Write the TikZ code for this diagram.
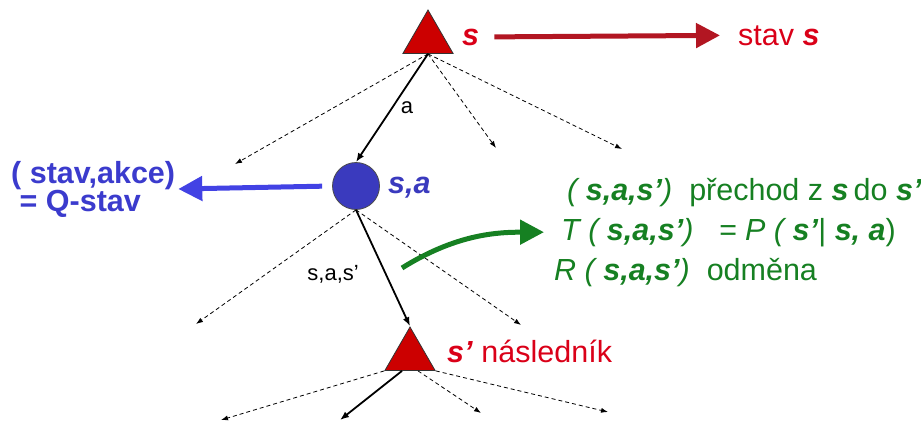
\documentclass[tikz,border=0pt]{standalone}
\usepackage{fontspec}
\setmainfont{Liberation Sans}
\usetikzlibrary{shapes.geometric,arrows.meta}
\definecolor{stavred}{RGB}{204,0,0}
\definecolor{textred}{RGB}{218,0,24}
\definecolor{arrowred}{RGB}{178,22,34}
\definecolor{qblue}{RGB}{58,58,190}
\definecolor{arrowblue}{RGB}{66,66,228}
\definecolor{tgreen}{RGB}{22,128,34}

\begin{document}
\begin{tikzpicture}[x=1pt,y=-1pt,
  stavtri/.style={regular polygon, regular polygon sides=3, minimum size=58pt,
    inner sep=0pt, fill=stavred, draw=black!80, line width=0.8pt},
  dashed edge/.style={dash pattern=on 4pt off 3pt, line width=0.8pt,
    -{Latex[length=7pt,width=5pt]}},
  solid edge/.style={line width=1.8pt, -{Latex[length=9pt,width=7pt]}},
  big/.style={font=\fontsize{30.5}{34}\selectfont, inner sep=3pt},
  small/.style={font=\fontsize{22}{26}\selectfont, inner sep=2pt},
  fat arrow/.style={line width=5pt, -{Triangle[length=24pt,width=24pt]}}]
  \useasboundingbox (0,0) rectangle (921,423);

  % states and the Q-state
  \node[stavtri] (top) at (428,39) {};
  \node[circle, minimum size=47pt, inner sep=0pt, fill=qblue, draw=black!70,
    line width=0.8pt] (qs) at (356,186) {};
  \node[stavtri] (bot) at (410,356) {};

  % labels
  \node[big, anchor=base west, text=textred] (slab) at (459,45) {\textbf{\textit{s}}};
  \node[big, anchor=base west, text=textred] (stavtxt) at (735,45) {stav \textbf{\textit{s}}};
  \node[big, anchor=base west, text=qblue] (salab) at (385,193) {\textbf{\textit{s,a}}};
  \node[big, anchor=west, align=left, text=arrowblue!90!black, font=\fontsize{30.5}{28}\selectfont\bfseries]
    (qtxt) at (8,189) {( stav,akce)\\\ = Q-stav};
  \node[big, anchor=base west, text=textred] (succ) at (444,362)
    {\textbf{\textit{s’}} následník};
  \node[big, anchor=base west, text=tgreen] (trans) at (564,200)
    {\textit{( \textbf{s,a,s’})}\ \ přechod z \textbf{\textit{s}}\,do \textbf{\textit{s’}}};
  \node[big, anchor=base west, text=tgreen] (tprob) at (558,240)
    {\textit{T ( \textbf{s,a,s’})\ \ \ = P ( \textbf{s’}}| \textit{\textbf{s, a}})};
  \node[big, anchor=base west, text=tgreen] (reward) at (551,280)
    {\textit{R ( \textbf{s,a,s’})}\ \ odměna};

  % leaves
  \coordinate (t1) at (235,164);
  \coordinate (t2) at (496,148);
  \coordinate (t3) at (622,149);
  \coordinate (q1) at (196,324);
  \coordinate (q2) at (521,325);
  \coordinate (b1) at (221,420);
  \coordinate (b2) at (340,420);
  \coordinate (b3) at (481,413);
  \coordinate (b4) at (608,412);
  \coordinate (gstart) at (402,268);

  % tree edges
  \foreach \c in {t1,t2,t3} \draw[dashed edge] (top.south) -- (\c);
  \draw[solid edge] (top.south) -- node[small, right=6pt] (alab) {a} (qs.north);
  \foreach \c in {q1,q2} \draw[dashed edge] (qs.south) -- (\c);
  \draw[solid edge] (qs.south) -- node[small, left=24pt, pos=0.55] (saslab) {s,a,s’} (bot.north);
  \draw[dashed edge] (bot.corner 2) -- (b1);
  \draw[solid edge] ([xshift=-8pt]bot.south) -- (b2);
  \draw[dashed edge] ([xshift=8pt]bot.south) -- (b3);
  \draw[dashed edge] (bot.corner 3) -- (b4);

  % pointers to the explanations
  \draw[fat arrow, arrowred, shorten <=12pt, shorten >=15pt] (slab.east) -- (stavtxt.west);
  \draw[fat arrow, arrowblue, shorten <=10pt] (qs.west) -- (qtxt.east);
  \draw[fat arrow, tgreen, shorten >=14pt] (gstart) to[out=32, in=180] (tprob.west);
\end{tikzpicture}
\end{document}
